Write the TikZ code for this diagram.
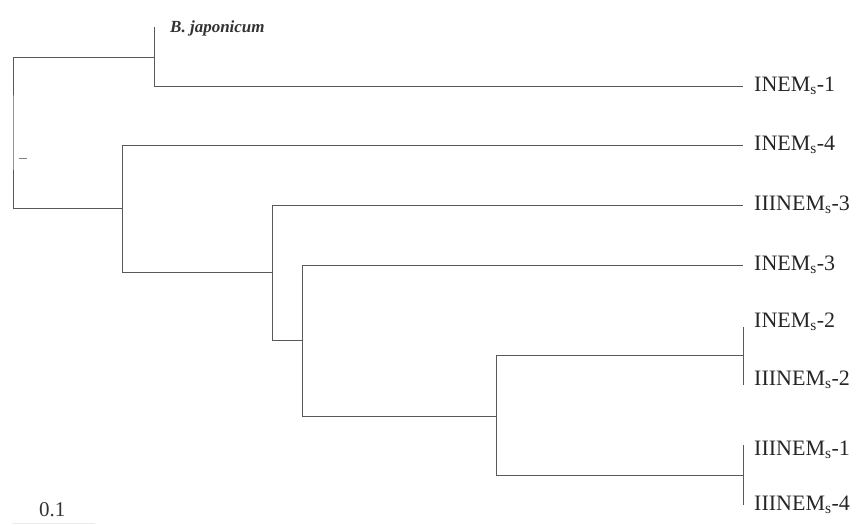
\documentclass[tikz,border=0pt]{standalone}
\usepackage{fontspec}
\setmainfont{Liberation Serif}
\begin{document}
\begin{tikzpicture}[x=1pt,y=-1pt,
  br/.style={draw=black!65,line width=0.9pt},
  leaf/.style={anchor=west,inner xsep=11pt,inner ysep=0pt,font=\fontsize{22}{24}\selectfont,text=black!85}]
\useasboundingbox (0,0) rectangle (860,525);
% internal nodes
\coordinate (r) at (13,132);
\coordinate (n1) at (154,57);
\coordinate (n1t) at (154,27);
\coordinate (n1b) at (154,86);
\coordinate (n2) at (122,208);
\coordinate (n2t) at (122,145);
\coordinate (n2b) at (122,272);
\coordinate (n3) at (272,272);
\coordinate (n3t) at (272,205);
\coordinate (n3b) at (272,340);
\coordinate (n4) at (302,340);
\coordinate (n4t) at (302,265);
\coordinate (n4b) at (302,416);
\coordinate (n5) at (496,416);
\coordinate (n5t) at (496,355);
\coordinate (n5b) at (496,475);
\coordinate (n6) at (743,355);
\coordinate (n6t) at (743,327);
\coordinate (n6b) at (743,385);
\coordinate (n7) at (743,475);
\coordinate (n7t) at (743,445);
\coordinate (n7b) at (743,505);
% labels
\node[anchor=west,inner sep=0pt,font=\fontsize{17}{19}\selectfont\itshape\bfseries,text=black!80] (bj) at (170,28) {B. japonicum};
\node[leaf] (l1) at (743,86) {INEM\textsubscript{s}-1};
\node[leaf] (l2) at (743,145) {INEM\textsubscript{s}-4};
\node[leaf] (l3) at (743,205) {IIINEM\textsubscript{s}-3};
\node[leaf] (l4) at (743,265) {INEM\textsubscript{s}-3};
\node[leaf] (l5) at (743,322) {INEM\textsubscript{s}-2};
\node[leaf] (l6) at (743,380) {IIINEM\textsubscript{s}-2};
\node[leaf] (l7) at (743,450) {IIINEM\textsubscript{s}-1};
\node[leaf] (l8) at (743,505) {IIINEM\textsubscript{s}-4};
\node[anchor=west,inner sep=0pt,font=\fontsize{21}{23}\selectfont,text=black!80] (sc) at (39,510) {0.1};
% branches
\draw[br] (n1) -| (r) |- (n2);
\draw[br] (n1t) -- (n1b) -- (l1);
\draw[br] (n2t) -- (n2b);
\draw[br] (n2t) -- (l2);
\draw[br] (n2b) -- (n3);
\draw[br] (n3t) -- (n3b) -- (n4);
\draw[br] (n3t) -- (l3);
\draw[br] (n4t) -- (n4b) -- (n5);
\draw[br] (n4t) -- (l4);
\draw[br] (n5t) -- (n5b);
\draw[br] (n5t) -- (n6);
\draw[br] (n5b) -- (n7);
\draw[br] (n6t) -- (n6b);
\draw[br] (n7t) -- (n7b);
% small stray tick
\coordinate (tk1) at (19,158);
\coordinate (tk2) at (27,158);
\draw[br,black!50] (tk1) -- (tk2);
% faint scale bar
\coordinate (sb1) at (12,523);
\coordinate (sb2) at (95,523);
\draw[draw=black!8,line width=0.8pt] (sb1) -- (sb2);
\end{tikzpicture}
\end{document}
